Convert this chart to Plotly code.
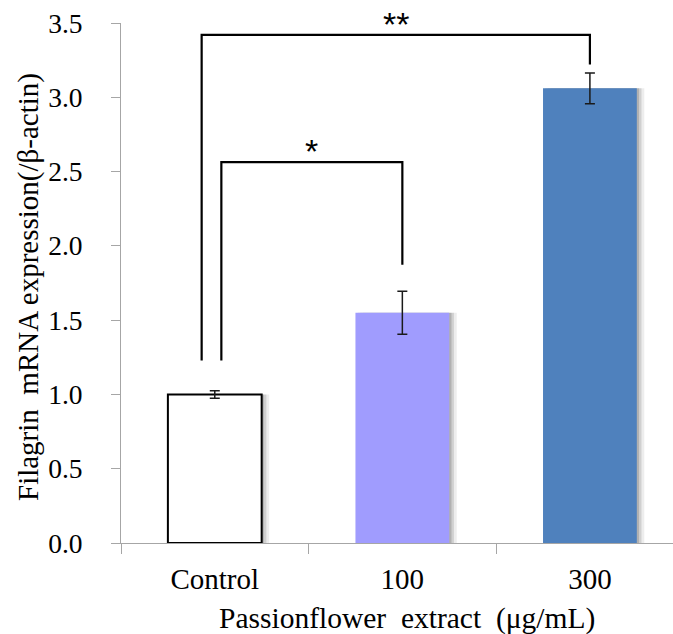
import plotly.graph_objects as go

categories = ["Control", "100", "300"]
values = [1.0, 1.55, 3.06]
errors = [0.025, 0.145, 0.103]
bar_colors = ["#FFFFFF", "#A09CFE", "#4F81BD"]
bar_line_colors = ["#000000", "rgba(0,0,0,0)", "rgba(0,0,0,0)"]
y_ticks = [0.0, 0.5, 1.0, 1.5, 2.0, 2.5, 3.0, 3.5]

# significance brackets: (left index, right index, left offset, top, left bottom, right bottom, label)
brackets = [
    (0, 1, 0.035, 2.564, 1.228, 1.873, "*"),
    (0, 2, -0.07, 3.42, 1.228, 3.22, "**"),
]

FONT = "Liberation Serif, Times New Roman, serif"
BAR_W = 0.5

fig = go.Figure()

# soft drop shadows
for dx, col in [(0.04, "rgba(0,0,0,0.07)"), (0.025, "rgba(0,0,0,0.12)"), (0.012, "rgba(0,0,0,0.15)")]:
    fig.add_trace(go.Bar(
        x=categories, y=values, width=BAR_W, offset=-BAR_W / 2 + dx,
        marker=dict(color=col, line=dict(width=0)),
        hoverinfo="skip", showlegend=False,
    ))

fig.add_trace(go.Bar(
    x=categories, y=values, width=BAR_W, offset=-BAR_W / 2,
    marker=dict(color=bar_colors, line=dict(color=bar_line_colors, width=2)),
    error_y=dict(type="data", array=errors, visible=True, color="#1a1a1a", thickness=1.5, width=5),
    showlegend=False,
))

for li, ri, loff, top, lb, rb, lab in brackets:
    xl = li + loff
    xr = ri
    fig.add_trace(go.Scatter(
        x=[xl, xl, xr, xr], y=[lb, top, top, rb], mode="lines",
        line=dict(color="#000000", width=2.2), xaxis="x2",
        hoverinfo="skip", showlegend=False,
    ))
    fig.add_annotation(
        x=(xl + xr) / 2, y=top, xref="x2", yref="y", text=lab, showarrow=False,
        yanchor="bottom", yshift=-10, font=dict(family="Arial, Liberation Sans, sans-serif", size=34, color="#000"),
    )

RANGE = [-0.5, 2.443]
fig.update_layout(
    width=673, height=634,
    margin=dict(l=121, r=0, t=23, b=91),
    plot_bgcolor="white", paper_bgcolor="white",
    barmode="overlay",
    font=dict(family=FONT, size=28, color="#000"),
    xaxis=dict(
        type="category", range=RANGE, showline=True, linecolor="#A6A6A6", linewidth=1,
        ticks="outside", tickson="boundaries", ticklen=10, tickcolor="#A6A6A6",
        showgrid=False, zeroline=False, ticklabelstandoff=10,
        tickfont=dict(size=29, family=FONT, color="#000"),
    ),
    xaxis2=dict(
        overlaying="x", range=RANGE, visible=False, showgrid=False, zeroline=False,
    ),
    yaxis=dict(
        range=[0, 3.5], tickvals=y_ticks, ticktext=[f"{v:.1f}" for v in y_ticks],
        showline=True, linecolor="#A6A6A6", linewidth=1, ticks="outside", ticklen=9,
        tickcolor="#A6A6A6", showgrid=False, zeroline=False, ticklabelstandoff=23,
        tickfont=dict(size=27.5, family=FONT, color="#000"),
    ),
)

fig.add_annotation(
    text="Passionflower  extract  (μg/mL)", xref="paper", yref="paper",
    x=0.5, y=0, xanchor="center", yanchor="top", xshift=10, yshift=-57,
    showarrow=False, font=dict(family=FONT, size=29.5, color="#000"),
)
fig.add_annotation(
    text="Filagrin  mRNA expression(/β-actin)", xref="paper", yref="paper",
    x=0, y=0.5, xanchor="center", yanchor="middle", xshift=-93, yshift=-4,
    textangle=-90, showarrow=False, font=dict(family=FONT, size=29, color="#000"),
)

fig.write_html("out.html")
